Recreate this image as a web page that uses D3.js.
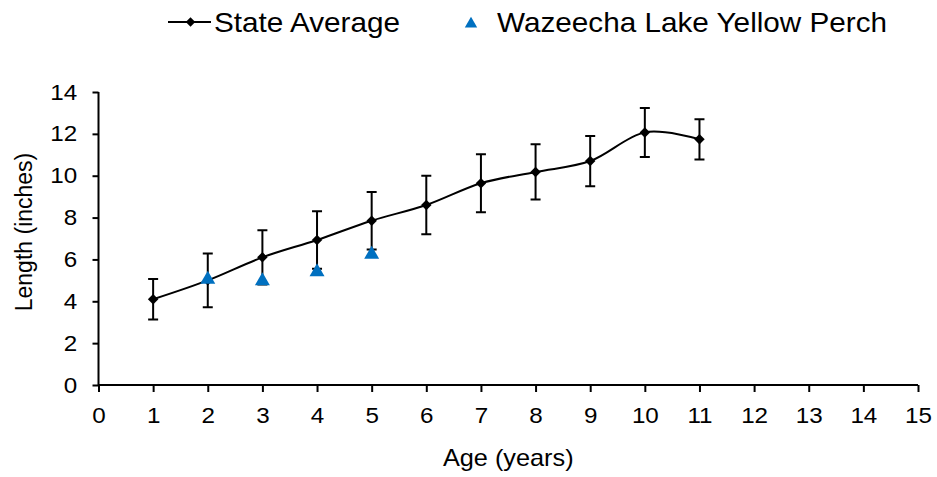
<!DOCTYPE html>
<html>
<head>
<meta charset="utf-8">
<script src="https://cdn.jsdelivr.net/npm/d3@7"></script>
<style>
  body { margin: 0; background: #fff; }
  svg { font-family: "Liberation Sans", Arial, sans-serif; }
</style>
</head>
<body>
<div id="chart"></div>
<script>
// state average length at age, with +/- error
var ages = [1, 2, 3, 4, 5, 6, 7, 8, 9, 10, 11]
var stateAvg = [4.1, 5.0, 6.1, 6.93, 7.85, 8.6, 9.64, 10.18, 10.7, 12.07, 11.74]
var stateErr = [0.97, 1.28, 1.3, 1.37, 1.37, 1.4, 1.38, 1.32, 1.2, 1.17, 0.96]

// Wazeecha Lake yellow perch
var lakeAges = [2, 3, 4, 5]
var lakeLen = [5.05, 4.97, 5.4, 6.24]

var xTicks = d3.range(0, 16)
var yTicks = [0, 2, 4, 6, 8, 10, 12, 14]

var width = 937, height = 477
var blue = "#0070C0"
var stretch = "scale(1.1,1)"

var svg = d3.select("#chart").append("svg")
    .attr("width", width)
    .attr("height", height)

var x = d3.scaleLinear().domain([0, 15]).range([98.5, 918])
var y = d3.scaleLinear().domain([0, 14]).range([385, 92])

// axes
var xAxis = svg.append("g")
    .attr("transform", "translate(0," + y(0) + ")")
    .call(d3.axisBottom(x).tickValues(xTicks).tickSize(7).tickPadding(15))
var yAxis = svg.append("g")
    .attr("transform", "translate(" + x(0) + ",0)")
    .call(d3.axisLeft(y).tickValues(yTicks).tickSize(6).tickPadding(15))

;[xAxis, yAxis].forEach(function(a) {
  a.select(".domain").attr("stroke", "#000").attr("stroke-width", 2)
  a.selectAll(".tick line").attr("stroke", "#000").attr("stroke-width", 2)
  a.selectAll("text").attr("font-size", 22).attr("fill", "#000")
    .attr("font-family", "'Liberation Sans', Arial, sans-serif")
    .attr("transform", stretch)
})
yAxis.selectAll("text").attr("x", -19.3)
xAxis.select(".domain").attr("d", "M" + x(0) + ",0H" + x(15))
yAxis.select(".domain").attr("d", "M0," + y(0) + "V" + y(14))

// axis titles
svg.append("text")
    .attr("transform", "translate(" + ((x(0) + x(15)) / 2) + ",466) " + stretch)
    .attr("text-anchor", "middle")
    .attr("font-size", 23)
    .text("Age (years)")

svg.append("text")
    .attr("transform", "translate(32,232) rotate(-90)")
    .attr("text-anchor", "middle")
    .attr("font-size", 23)
    .text("Length (inches)")

var state = ages.map(function(a, i) { return { age: a, len: stateAvg[i], err: stateErr[i] } })
var lake = lakeAges.map(function(a, i) { return { age: a, len: lakeLen[i] } })

// error bars
var eb = svg.append("g").attr("stroke", "#000").attr("stroke-width", 2)
eb.selectAll("path")
  .data(state)
  .join("path")
    .attr("fill", "none")
    .attr("d", function(d) {
      var cx = x(d.age), t = y(d.len + d.err), b = y(d.len - d.err)
      return "M" + (cx - 5) + "," + t + "H" + (cx + 5) +
             "M" + cx + "," + t + "V" + b +
             "M" + (cx - 5) + "," + b + "H" + (cx + 5)
    })

// smoothed line
var line = d3.line()
    .x(function(d) { return x(d.age) })
    .y(function(d) { return y(d.len) })
    .curve(d3.curveCardinal.tension(0))

svg.append("path")
    .datum(state)
    .attr("fill", "none")
    .attr("stroke", "#000")
    .attr("stroke-width", 2)
    .attr("d", line)

svg.append("g").selectAll("path")
  .data(state)
  .join("path")
    .attr("transform", function(d) { return "translate(" + x(d.age) + "," + y(d.len) + ") rotate(45)" })
    .attr("d", d3.symbol().type(d3.symbolSquare).size(55))
    .attr("fill", "#000")

svg.append("g").selectAll("path")
  .data(lake)
  .join("path")
    .attr("transform", function(d) { return "translate(" + x(d.age) + "," + y(d.len) + ")" })
    .attr("d", d3.symbol().type(d3.symbolTriangle2).size(160))
    .attr("fill", blue)

// legend
var leg = svg.append("g")
leg.append("line")
    .attr("x1", 168).attr("x2", 211).attr("y1", 22).attr("y2", 22)
    .attr("stroke", "#000").attr("stroke-width", 2)
leg.append("path")
    .attr("transform", "translate(190.5,22) rotate(45)")
    .attr("d", d3.symbol().type(d3.symbolSquare).size(45))
    .attr("fill", "#000")
leg.append("text")
    .attr("transform", "translate(214,32) " + stretch)
    .attr("font-size", 27)
    .text("State Average")
leg.append("path")
    .attr("transform", "translate(471,24)")
    .attr("d", d3.symbol().type(d3.symbolTriangle2).size(110))
    .attr("fill", blue)
leg.append("text")
    .attr("transform", "translate(497,32) " + stretch)
    .attr("font-size", 27)
    .text("Wazeecha Lake Yellow Perch")
</script>
</body>
</html>
